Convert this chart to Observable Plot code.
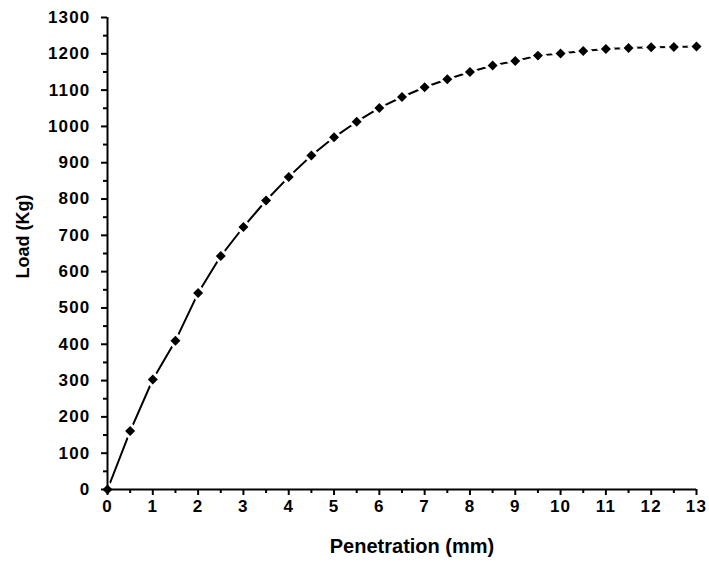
<!DOCTYPE html>
<html>
<head>
<meta charset="utf-8">
<script src="https://cdn.jsdelivr.net/npm/d3@7"></script>
<script src="https://cdn.jsdelivr.net/npm/@observablehq/plot@0.6"></script>
<style>
  html, body { margin: 0; padding: 0; background: #fff; }
  svg { display: block; }
  .ticklbl text { letter-spacing: 1.2px; }
</style>
</head>
<body>
<div id="chart"></div>
<script>
const penetration = [0, 0.5, 1, 1.5, 2, 2.5, 3, 3.5, 4, 4.5, 5, 5.5, 6, 6.5, 7, 7.5, 8, 8.5, 9, 9.5, 10, 10.5, 11, 11.5, 12, 12.5, 13];
const load = [0, 161, 303, 410, 541, 643, 723, 796, 861, 920, 970, 1013, 1051, 1081, 1108, 1130, 1150, 1168, 1180, 1195, 1201, 1208, 1213, 1216, 1218, 1219, 1220];
const xTicks = d3.range(0, 14, 1);
const xMinor = d3.range(0.5, 13, 1);
const yTicks = d3.range(0, 1301, 100);
const yMinor = d3.range(50, 1300, 100);

const data = penetration.map((p, i) => ({p, l: load[i]}));

const font = "'Liberation Sans', Arial, sans-serif";

const chart = Plot.plot({
  width: 709,
  height: 563,
  marginLeft: 107,
  marginRight: 13,
  marginTop: 17,
  marginBottom: 74,
  style: {fontFamily: font, fontSize: "17px", fontWeight: "bold", color: "#000", background: "#fff"},
  x: {domain: [0, 13]},
  y: {domain: [0, 1300]},
  marks: [
    Plot.line(data, {x: "p", y: "l", stroke: "#000", strokeWidth: 2}),
    Plot.dot(data, {x: "p", y: "l", symbol: "diamond2", r: 4.5, fill: "#000", stroke: "#fff", strokeWidth: 6, paintOrder: "stroke"}),
    Plot.axisX({ticks: xTicks, tickSize: 6, tickPadding: 4, strokeWidth: 2, label: null, fontSize: 17, fontWeight: "bold", tickFormat: "d", className: "ticklbl"}),
    Plot.axisX({ticks: xMinor, tickSize: 4, text: null, strokeWidth: 2, label: null}),
    Plot.axisY({ticks: yTicks, tickSize: 6, tickPadding: 11, strokeWidth: 2, label: null, fontSize: 17, fontWeight: "bold", tickFormat: "d", className: "ticklbl"}),
    Plot.axisY({ticks: yMinor, tickSize: 4, text: null, strokeWidth: 2, label: null}),
    Plot.ruleX([0], {stroke: "#000", strokeWidth: 2}),
    Plot.ruleY([0], {stroke: "#000", strokeWidth: 2}),
    Plot.text(["Penetration (mm)"], {frameAnchor: "bottom", dx: 10, dy: 63, text: d => d, fontSize: 20, fontWeight: "bold", fill: "#000", letterSpacing: "1.3px"}),
    Plot.text(["Load (Kg)"], {frameAnchor: "left", dx: -84, dy: 25, rotate: -90, text: d => d, fontSize: 18, fontWeight: "bold", fill: "#000"})
  ]
});

document.getElementById("chart").appendChild(chart);
</script>
</body>
</html>
